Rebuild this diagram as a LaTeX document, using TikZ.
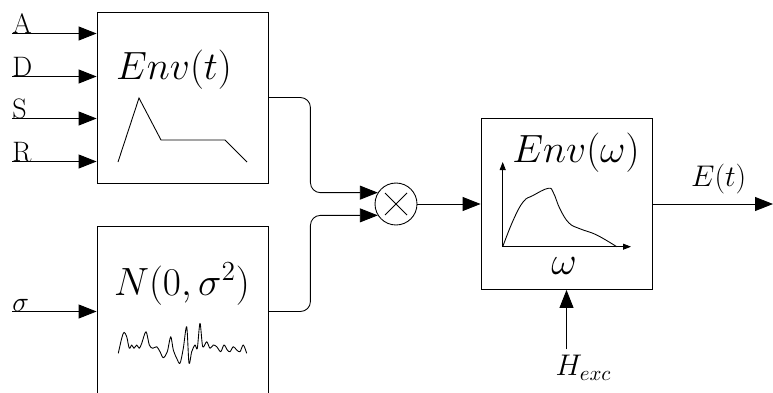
\RequirePackage{fix-cm}
\documentclass[tikz,border=0pt]{standalone}
\usepackage{amsmath}
\usepackage{tikz}
\usetikzlibrary{arrows.meta}

\newcommand{\bigtxt}{\fontsize{22.4}{27}\selectfont}
\newcommand{\midtxt}{\fontsize{17}{20}\selectfont}
\newcommand{\smalltxt}{\fontsize{16}{19}\selectfont}

\begin{document}
\begin{tikzpicture}[x=0.02cm, y=-0.02cm, line width=0.5pt,
            block/.style={rectangle, draw, minimum size=3.42cm, inner sep=0pt},
            mixer/.style={circle, draw, minimum size=0.84cm, inner sep=0pt},
            sig/.style={-{Triangle[length=3.6mm, width=2.8mm]}},
            axis/.style={-{Triangle[length=1.6mm, width=1.2mm]}},
            inlabel/.style={anchor=base west, inner sep=0pt, font=\smalltxt},
        ]
            \useasboundingbox (0,0) rectangle (773,392);

            %% Huellkurve Env(t)
            \node[block] (envt) at (182.5,97.5) {};
            \node[font=\bigtxt] (envtxt) at (174,70) {$Env(t)$};
            \draw (118,162) -- (139,98) -- (161,140) -- (225,140) -- (247,162);

            %% Eingaenge A, D, S, R
            \node[inlabel] (inA) at (12,33.5)  {A};
            \node[inlabel] (inD) at (12,76.5)  {D};
            \node[inlabel] (inS) at (12,118.5) {S};
            \node[inlabel] (inR) at (12,161.5) {R};
            \draw[sig] (inA.base west) -- (inA.base west -| envt.west);
            \draw[sig] (inD.base west) -- (inD.base west -| envt.west);
            \draw[sig] (inS.base west) -- (inS.base west -| envt.west);
            \draw[sig] (inR.base west) -- (inR.base west -| envt.west);

            %% Rauschen N(0,sigma^2)
            \node[block] (noise) at (182.5,311.5) {};
            \node[font=\bigtxt] (noisetxt) at (182,284) {$N(0,\sigma^2)$};
            \draw[line join=round] plot[smooth, tension=0.5] coordinates {
                (118.3,353.3) (121.7,338.3) (124,332.3) (126.7,336.7) (129.3,348.3)
                (131.7,345) (134,348.3) (136.7,345) (139.3,348.3) (141.7,343.3)
                (146,331.7) (149.3,345) (152.7,348.3) (156.7,346.7) (160,351.7)
                (163.3,357.7) (167.3,351.7) (170.7,336.7) (173.3,350) (176.7,358.3)
                (180,363.3) (183.3,348.3) (186.7,326.7) (189,363.3) (191.7,351.7)
                (195,345) (197.3,348.3) (200,323.3) (202.7,346.7) (206.7,341.7)
                (210,348.3) (213.3,345) (216.7,346.7) (220.7,351.7) (224,345)
                (227.3,350) (230,351.7) (233.3,346.7) (236.7,350) (240,351.7)
                (243.3,345) (246.7,353.3)};
            \node[inlabel] (insig) at (12,311.5) {$\sigma$};
            \draw[sig] (insig.base west) -- (insig.base west -| noise.west);

            %% Multiplikation
            \node[mixer] (mult) at (396,204) {};
            \draw ([shift={(-11,-11)}]mult.center) -- ([shift={(11,11)}]mult.center);
            \draw ([shift={(-11,11)}]mult.center) -- ([shift={(11,-11)}]mult.center);
            \draw[sig, rounded corners=0.2cm] (envt.east) -- ++(42,0) |- (mult.148);
            \draw[sig, rounded corners=0.2cm] (noise.east) -- ++(42,0) |- (mult.212);

            %% Spektrale Huellkurve Env(omega)
            \node[block] (envw) at (566.5,204) {};
            \node[font=\bigtxt] (envwtxt) at (576,153) {$Env(\omega)$};
            \node[font=\bigtxt] (omega) at (564,266) {$\omega$};
            \coordinate (orig) at (502.7,246.7);
            \draw[axis] (orig) -- (502.7,162);
            \draw[axis] (orig) -- (631,246.7);
            \draw plot[smooth, tension=0.7] coordinates {
                (502.7,246.7) (513.3,220) (523.3,201.7) (533,195.5)
                (548.3,188.3) (553.5,193) (560,209) (569,223) (580,228.8)
                (596.7,235) (616.7,246.7)};
            \draw[sig] (mult.east) -- (envw.west);

            %% Ausgang und Anregung
            \coordinate (out) at (773,204);
            \draw[sig] (envw.east) -- (out) node[pos=0.55, above=2pt, font=\midtxt] {$E(t)$};
            \node[font=\midtxt] (hexc) at (583.5,368) {$H_{exc}$};
            \draw[sig] (envw.south |- hexc.north) -- (envw.south);

        \end{tikzpicture}
\end{document}
